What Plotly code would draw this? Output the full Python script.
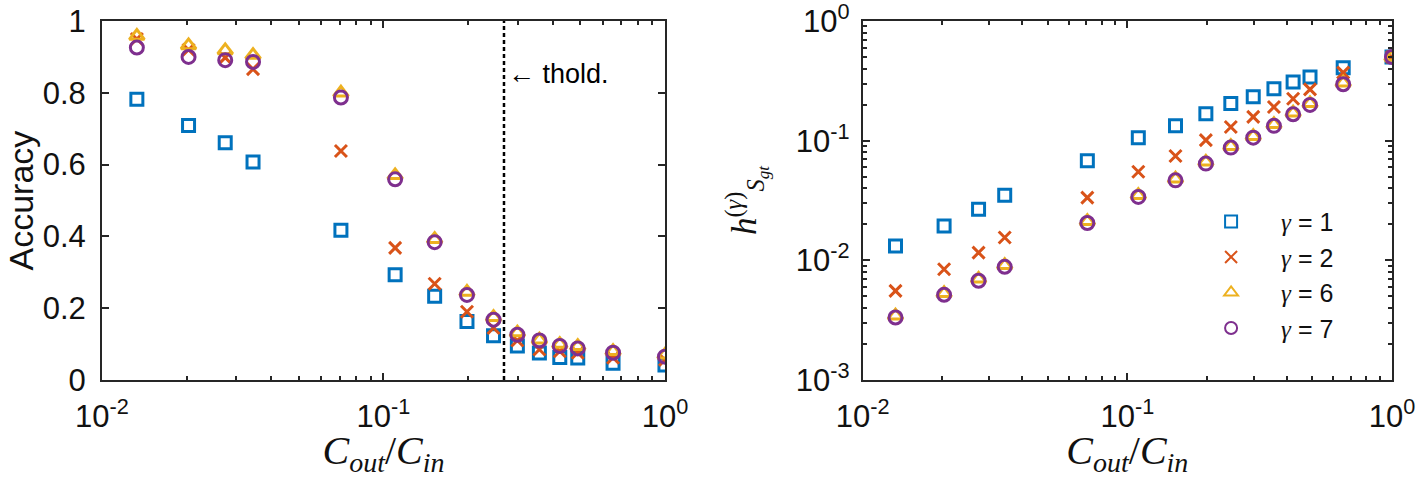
import math
import plotly.graph_objects as go
from plotly.subplots import make_subplots

# C_out / C_in values (shared by both panels)
ratio = [0.0133, 0.0203, 0.0274, 0.0344, 0.0706, 0.110, 0.152, 0.198, 0.246,
         0.299, 0.358, 0.423, 0.490, 0.654, 1.0]

# left panel: accuracy
acc_g1 = [0.782, 0.709, 0.661, 0.607, 0.417, 0.293, 0.233, 0.163, 0.123,
          0.095, 0.075, 0.063, 0.061, 0.047, 0.042]
acc_g2 = [0.950, 0.920, 0.898, 0.866, 0.638, 0.368, 0.268, 0.190, 0.145,
          0.110, 0.085, 0.080, 0.076, 0.062, 0.056]
acc_g6 = [0.958, 0.932, 0.918, 0.905, 0.800, 0.570, 0.392, 0.245, 0.175,
          0.132, 0.112, 0.100, 0.094, 0.080, 0.070]
acc_g7 = [0.926, 0.900, 0.891, 0.886, 0.787, 0.559, 0.384, 0.237, 0.168,
          0.126, 0.110, 0.095, 0.088, 0.076, 0.065]

# right panel: h_{S_gt}^{(gamma)}
h_g1 = [0.0132, 0.0194, 0.0267, 0.0350, 0.0678, 0.106, 0.133, 0.168, 0.204,
        0.233, 0.272, 0.309, 0.340, 0.407, 0.50]
h_g2 = [0.00556, 0.00843, 0.0116, 0.0155, 0.0334, 0.055, 0.0745, 0.101, 0.130,
        0.158, 0.191, 0.224, 0.268, 0.370, 0.50]
h_g6 = [0.00345, 0.00530, 0.00700, 0.00910, 0.0212, 0.0350, 0.0480, 0.0665, 0.090,
        0.109, 0.137, 0.171, 0.205, 0.305, 0.50]
h_g7 = [0.00333, 0.00515, 0.00675, 0.00883, 0.0205, 0.0339, 0.0466, 0.0643, 0.0875,
        0.106, 0.133, 0.166, 0.199, 0.296, 0.50]

thold = 0.268

gammas = ['1', '2', '6', '7']
colors = ['#0072BD', '#D95319', '#EDB120', '#7E2F8E']
symbols = ['square-open', 'x-thin-open', 'triangle-up-open', 'circle-open']
sizes = [12, 12, 13, 13]

x_tickvals = [0.01, 0.1, 1]
x_ticktext = ['10<sup>-2</sup>', '10<sup>-1</sup>', '10<sup>0</sup>']
y_tickvals = [0.001, 0.01, 0.1, 1]
y_ticktext = ['10<sup>-3</sup>', '10<sup>-2</sup>', '10<sup>-1</sup>', '10<sup>0</sup>']

acc = [acc_g1, acc_g2, acc_g6, acc_g7]
hs = [h_g1, h_g2, h_g6, h_g7]

fig = make_subplots(rows=1, cols=2)

for i in range(4):
    mk = dict(symbol=symbols[i], size=sizes[i], color=colors[i],
              line=dict(width=3, color=colors[i]))
    fig.add_trace(go.Scatter(x=ratio, y=acc[i], mode='markers', marker=mk,
                             showlegend=False), row=1, col=1)
    fig.add_trace(go.Scatter(x=ratio, y=hs[i], mode='markers', marker=mk,
                             name='<span style="font-family:Liberation Serif"><i>γ</i></span> = ' + gammas[i]),
                  row=1, col=2)

fig.add_trace(go.Scatter(x=[thold, thold], y=[0, 1], mode='lines',
                         line=dict(color='black', width=2.5, dash='4px,3px'),
                         showlegend=False), row=1, col=1)

fig.add_annotation(x=math.log10(thold), y=0.852, xref='x', yref='y', text='← thold.',
                   showarrow=False, xanchor='left', xshift=2,
                   font=dict(size=27, color='black', family='Liberation Sans'))

# left y-axis title placed by hand, close to the page edge
fig.add_annotation(x=-0.0628, y=0.5, xref='paper', yref='paper', text='Accuracy',
                   textangle=-90, showarrow=False, xanchor='center', yanchor='middle',
                   font=dict(size=34, color='#111', family='Liberation Sans'))

axcol = '#262626'
common = dict(showline=True, mirror='ticks', linewidth=2, linecolor=axcol,
              ticks='inside', ticklen=7, tickwidth=1.5, tickcolor=axcol,
              showgrid=False, zeroline=False, ticklabeloverflow='allow',
              tickfont=dict(size=31, color='#111', family='Liberation Sans'))
minor = dict(ticks='inside', ticklen=4, tickwidth=1.5, tickcolor=axcol, dtick='D1', showgrid=False)
xtitle = '<i>C</i><sub><i>out</i></sub>/<i>C</i><sub><i>in</i></sub>'
serif = dict(size=40, color='#111', family='Liberation Serif')

fig.update_xaxes(type='log', range=[-2, 0], tickmode='array', tickvals=x_tickvals,
                 ticktext=x_ticktext, minor=minor, ticklabelstandoff=8,
                 title=dict(text=xtitle, font=serif, standoff=0), **common)
fig.update_xaxes(domain=[0, 0.4364], row=1, col=1)
fig.update_xaxes(domain=[0.5897, 1], row=1, col=2)

fig.update_yaxes(range=[0, 1], dtick=0.2, row=1, col=1, ticklabelstandoff=8, **common)
fig.update_yaxes(type='log', range=[-3, 0], tickmode='array', tickvals=y_tickvals,
                 ticktext=y_ticktext, minor=minor, row=1, col=2, ticklabelstandoff=5,
                 title=dict(text='<i>h</i><sup>(<i>γ</i>)</sup><sub><i>S</i><sub><i>gt</i></sub></sub>',
                            font=dict(size=35, color='#111', family='Liberation Serif'),
                            standoff=28), **common)

fig.update_layout(
    width=1416, height=478,
    margin=dict(l=102, r=24, t=21, b=98, autoexpand=False),
    plot_bgcolor='white', paper_bgcolor='white',
    legend=dict(x=0.8365, y=0.505, xanchor='left', yanchor='top', itemwidth=90,
                font=dict(size=25, color='#111', family='Liberation Sans'),
                bgcolor='rgba(0,0,0,0)', itemsizing='constant'),
)

# drop the page's default body margin so the figure fills the window
fig.write_html("out.html", config={'displayModeBar': False},
               post_script="document.body.style.margin='0';")
